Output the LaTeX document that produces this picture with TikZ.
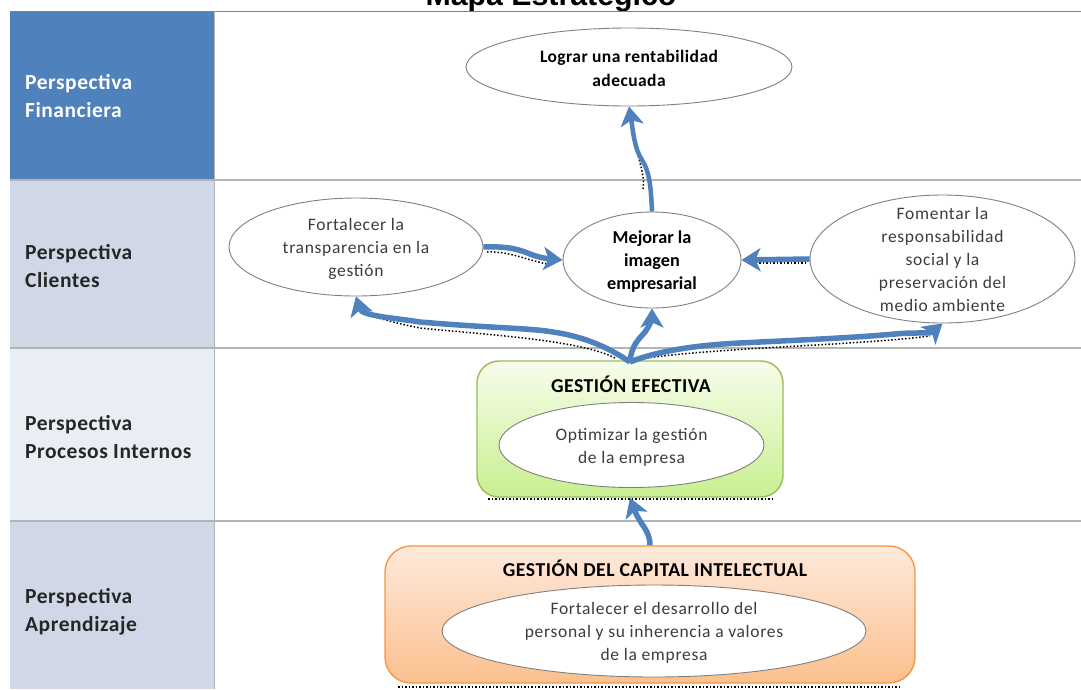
\documentclass[tikz,border=0pt]{standalone}
\usepackage{fontspec}
\setmainfont{Carlito}
\newfontfamily\titlefont{Liberation Sans}
\newfontfamily\spacedfont[LetterSpace=4]{Carlito}
\newfontfamily\heavyfont[LetterSpace=2.5,BoldFont={Carlito Bold}]{Carlito}
\usetikzlibrary{shapes.geometric,arrows.meta}
\definecolor{headblue}{HTML}{4F81BD}
\definecolor{rowdark}{HTML}{D0D8E8}
\definecolor{rowlight}{HTML}{E9EDF4}
\definecolor{ruleg}{HTML}{B4B4B4}
\definecolor{bodytext}{HTML}{3C3C3C}
\definecolor{greenline}{HTML}{9BBB59}
\definecolor{greentop}{HTML}{F7FDEB}
\definecolor{greenbot}{HTML}{C8F090}
\definecolor{orangeline}{HTML}{F79646}
\definecolor{orangetop}{HTML}{FEE9DB}
\definecolor{orangebot}{HTML}{FBC08E}
\newcommand{\lowered}[2]{\raisebox{-#1pt}[0pt][0pt]{\begin{tabular}{@{}c@{}}#2\end{tabular}}}
\tikzset{
  x=1pt,y=-1pt,
  rowlabel/.style={anchor=west,align=left,inner sep=0pt,font=\fontsize{21.5}{28}\selectfont\heavyfont\bfseries,text=#1},
  goal/.style={draw=black!50,line width=0.9pt,fill=white,ellipse,inner sep=0pt,text=bodytext,font=\fontsize{17.5}{23}\selectfont\spacedfont},
  goalbold/.style={goal,text=black,font=\fontsize{18.2}{23}\selectfont\bfseries},
  band/.style={line width=1.4pt,inner sep=0pt},
  bandtitle/.style={inner sep=0pt,text=black,font=\fontsize{19.7}{22}\selectfont\heavyfont\bfseries},
  link/.style={draw=headblue,line width=5.5pt,-{Stealth[length=19pt,width=23pt,inset=5pt]}},
  speck/.style={draw=black,line width=1.5pt,dash pattern=on 1.5pt off 2pt},
}
\begin{document}
\begin{tikzpicture}
\useasboundingbox (0,0) rectangle (1081,689);
\clip (0,0) rectangle (1081,689);
\fill[white] (0,0) rectangle (1081,689);
% title
\node[inner sep=0pt,anchor=base,font=\fontsize{30.3}{32}\selectfont\titlefont\bfseries] (title) at (551,5) {Mapa Estratégico};
% table
\fill[headblue] (10,11) rectangle (214,180);
\fill[rowdark] (10,180) rectangle (214,348);
\fill[rowlight] (10,348) rectangle (214,521);
\fill[rowdark] (10,521) rectangle (214,689);
\draw[black!50,line width=1pt] (10,11) -- (1081,11);
\draw[ruleg,line width=1.2pt] (10,180) -- (1081,180);
\draw[ruleg,line width=1.2pt] (10,348) -- (1081,348);
\draw[ruleg,line width=1.2pt] (10,521) -- (1081,521);
\draw[ruleg,line width=0.5pt] (214,11) -- (214,689);
\node[rowlabel=white] (lf) at (25,96) {Perspectiva\\Financiera};
\node[rowlabel=black!85] (lc) at (25,266) {Perspectiva\\Clientes};
\node[rowlabel=black!85] (lp) at (25,437) {Perspectiva\\Procesos Internos};
\node[rowlabel=black!85] (la) at (25,612) {Perspectiva\\Aprendizaje};
% boxes
\draw[speck] (488,499) -- (772,499);
\draw[speck] (398,687) -- (902,687);
\node[band,rounded corners=22pt,draw=greenline,minimum width=306pt,minimum height=136pt,top color=greentop,bottom color=greenbot] (ge) at (630,429) {};
\node[band,rounded corners=26pt,draw=orangeline,minimum width=530pt,minimum height=137pt,top color=orangetop,bottom color=orangebot] (cap) at (650,614.5) {};
\node[bandtitle] (get) at (631,384) {GESTIÓN EFECTIVA};
\node[bandtitle] (capt) at (655,568) {GESTIÓN DEL CAPITAL INTELECTUAL};
% ellipses
\node[goal,minimum width=326pt,minimum height=78pt,font=\fontsize{17.5}{24}\selectfont\heavyfont\bfseries,text=black] (lograr) at (629,67) {\lowered{7.4}{Lograr una rentabilidad\\adecuada}};
\node[goal,minimum width=254pt,minimum height=98pt] (fort) at (356,247) {\lowered{6.4}{Fortalecer la\\transparencia en la\\gestión}};
\node[goalbold,minimum width=178pt,minimum height=96pt] (mej) at (652,260) {\lowered{6.4}{Mejorar la\\imagen\\empresarial}};
\node[goal,minimum width=265pt,minimum height=128pt] (fom) at (942.5,259) {\lowered{6.4}{Fomentar la\\responsabilidad\\social y la\\preservación del\\medio ambiente}};
\node[goal,minimum width=265pt,minimum height=85pt] (opt) at (631.5,445) {\lowered{6.4}{Optimizar la gestión\\de la empresa}};
\node[goal,minimum width=424pt,minimum height=92pt] (desa) at (654,631) {\lowered{6.4}{Fortalecer el desarrollo del\\personal y su inherencia a valores\\de la empresa}};
% connector shadows
\draw[speck] (487,252) .. controls (510,251) and (525,260) .. (552,265);
\draw[speck] (806,263) -- (752,263);
\draw[speck] (615,358) .. controls (580,340) and (490,335) .. (420,328) .. controls (395,323) and (375,318) .. (362,311);
\draw[speck] (640,359) .. controls (720,347) and (850,346) .. (930,336);
\draw[speck] (643,189) .. controls (645,170) and (638,165) .. (636,140);
% connectors
\path[link,line width=4.5pt] (mej.north) .. controls (651,190) and (650,172) .. (642,160) .. controls (634,148) and (633,130) .. (lograr.south);
\path[link] (fort.east) .. controls (510,246) and (520,250) .. (530,254) .. controls (540,258) and (550,259) .. (mej.west);
\path[link] (fom.west) -- (mej.east);
\coordinate (hub) at (630,362);
\path[link] (hub) .. controls (605,345) and (580,336) .. (553,332) .. controls (530,328) and (490,328) .. (420,322) .. controls (395,318) and (362,316) .. (fort.south);
\path[link] (hub) .. controls (631,345) and (640,338) .. (645,332) .. controls (650,325) and (652,318) .. (mej.south);
\path[link] (hub) .. controls (660,350) and (700,345) .. (740,343) .. controls (800,340) and (850,338) .. (895,334) .. controls (915,332) and (930,334) .. (fom.south);
\path[link] (cap.north) .. controls (650,530) and (640,525) .. (ge.south);
\end{tikzpicture}
\end{document}
